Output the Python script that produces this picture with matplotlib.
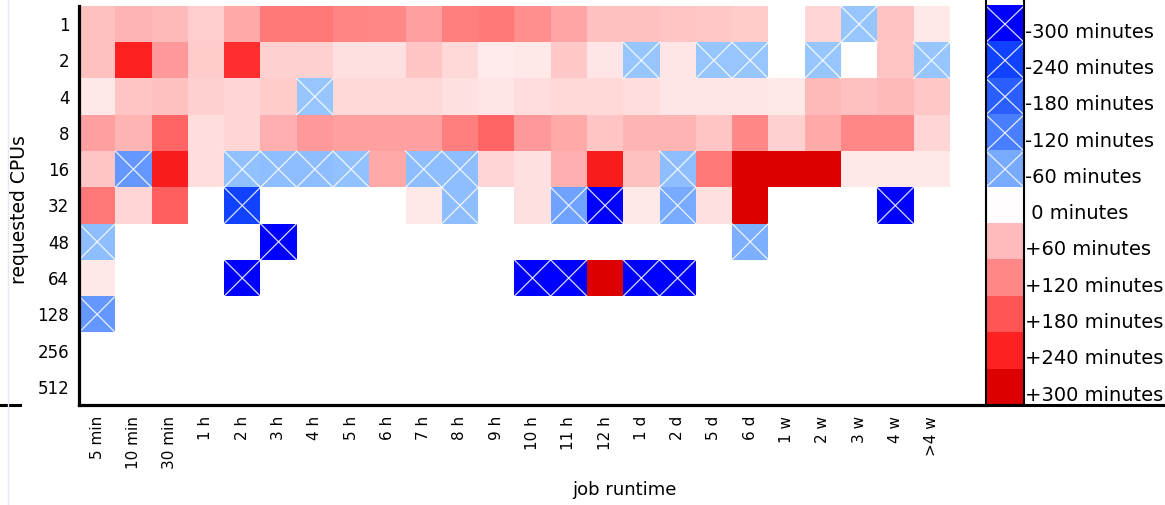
import numpy as np
import matplotlib
matplotlib.use("Agg")
import matplotlib.pyplot as plt
from matplotlib.colors import LinearSegmentedColormap, Normalize
from matplotlib.lines import Line2D

n = np.nan

# axis categories
cpus = ["1", "2", "4", "8", "16", "32", "48", "64", "128", "256", "512"]
runtimes = ["5 min", "10 min", "30 min", "1 h", "2 h", "3 h", "4 h", "5 h", "6 h",
            "7 h", "8 h", "9 h", "10 h", "11 h", "12 h", "1 d", "2 d", "5 d", "6 d",
            "1 w", "2 w", "3 w", "4 w", ">4 w"]

# difference in minutes per cell (nan = no jobs)
cpu1 = [54, 66, 63, 44, 82, 136, 140, 124, 120, 92, 129, 136, 112, 86, 56, 54, 51, 48, 46, n, 37, -35, 53, 20]
cpu2 = [56, 240, 99, 45, 224, 41, 41, 27, 27, 51, 33, 18, 20, 48, 23, -35, 23, -35, -35, n, -35, n, 51, -35]
cpu4 = [21, 51, 56, 40, 37, 45, -35, 33, 33, 35, 27, 23, 30, 33, 33, 30, 23, 23, 23, 20, 63, 54, 63, 48]
cpu8 = [92, 66, 160, 30, 37, 73, 99, 92, 92, 93, 129, 160, 100, 80, 51, 66, 66, 51, 120, 41, 80, 120, 120, 37]
cpu16 = [51, -85, 250, 30, -38, -42, -42, -38, 80, -40, -40, 37, 27, 73, 250, 56, -42, 140, 300, 300, 300, 20, 20, 20]
cpu32 = [140, 37, 167, n, -240, n, n, n, n, 20, -40, n, 27, -70, -300, 20, -60, 27, 300, n, n, n, -300, n]
cpu48 = [-42, n, n, n, n, -300, n, n, n, n, n, n, n, n, n, n, n, n, -55, n, n, n, n, n]
cpu64 = [20, n, n, n, -300, n, n, n, n, n, n, n, -300, -300, 300, -300, -300, n, n, n, n, n, n, n]
cpu128 = [-85] + [n] * 23
cpu256 = [n] * 24
cpu512 = [n] * 24

# legend levels
levels = [-300, -240, -180, -120, -60, 0, 60, 120, 180, 240, 300]
level_labels = ["-300 minutes", "-240 minutes", "-180 minutes", "-120 minutes", "-60 minutes",
                " 0 minutes", "+60 minutes", "+120 minutes", "+180 minutes", "+240 minutes",
                "+300 minutes"]

data = np.array([cpu1, cpu2, cpu4, cpu8, cpu16, cpu32, cpu48, cpu64, cpu128, cpu256, cpu512], dtype=float)

cmap = LinearSegmentedColormap.from_list("diff", [
    (0.0, "#0000ff"), (0.1, "#1144ff"), (0.2, "#2a5eff"), (0.3, "#4a80ff"),
    (0.4, "#78aaff"), (0.45, "#9ccbff"), (0.5, "#ffffff"), (0.6, "#ffbbbb"),
    (0.7, "#ff8888"), (0.8, "#ff5555"), (0.9, "#ff2222"), (1.0, "#dd0000")])
cmap.set_bad("white")
norm = Normalize(-300, 300)

W, H = 1165, 505
fig = plt.figure(figsize=(W / 100, H / 100), dpi=100)

# main heatmap
ax = fig.add_axes([79 / W, 100 / H, 907 / W, 399 / H])
ax.imshow(np.ma.masked_invalid(data), cmap=cmap, norm=norm, aspect="auto",
          interpolation="nearest")
ax.set_xlim(-0.5, len(runtimes) + 0.5)
ax.set_ylim(len(cpus) - 0.5, -0.5)

# white X on negative cells
for i in range(data.shape[0]):
    for j in range(data.shape[1]):
        if data[i, j] < 0:
            ax.plot([j - 0.5, j + 0.5], [i - 0.5, i + 0.5], color="white", lw=0.9, alpha=0.85)
            ax.plot([j - 0.5, j + 0.5], [i + 0.5, i - 0.5], color="white", lw=0.9, alpha=0.85)

ax.set_xticks(range(len(runtimes)))
ax.set_xticklabels(runtimes, rotation=90, fontsize=11, va="top")
ax.set_yticks(range(len(cpus)))
ax.set_yticklabels(cpus, fontsize=12)
ax.tick_params(axis="x", length=0, pad=8)
ax.tick_params(axis="y", length=0, pad=7)
ax.spines["top"].set_visible(False)
ax.spines["right"].set_visible(False)
ax.spines["left"].set_linewidth(2.3)
ax.spines["bottom"].set_linewidth(2.3)

# legend column
ax2 = fig.add_axes([986 / W, 100 / H, 38 / W, 405 / H])
lev = np.array(levels, dtype=float).reshape(-1, 1)
ax2.imshow(lev, cmap=cmap, norm=norm, aspect="auto", interpolation="nearest")
for i, v in enumerate(levels):
    if v < 0:
        ax2.plot([-0.5, 0.5], [i - 0.5, i + 0.5], color="white", lw=0.9, alpha=0.85)
        ax2.plot([-0.5, 0.5], [i + 0.5, i - 0.5], color="white", lw=0.9, alpha=0.85)
ax2.set_xlim(-0.5, 0.5)
ax2.set_ylim(len(levels) - 0.5, -0.5 - 6 / 36.3)
ax2.set_xticks([])
ax2.yaxis.tick_right()
ax2.set_yticks(np.arange(len(levels)) + 0.17)
ax2.set_yticklabels(level_labels, fontsize=14)
ax2.tick_params(axis="y", length=0, pad=1)
ax2.spines["top"].set_visible(False)
for s in ["left", "right", "bottom"]:
    ax2.spines[s].set_linewidth(1.5)

# axis titles
fig.text(624 / W, 15 / H, "job runtime", ha="center", va="center", fontsize=13)
fig.text(20 / W, 295 / H, "requested CPUs", ha="center", va="center", rotation=90, fontsize=13.5)

# stray page lines
fig.add_artist(Line2D([0, 20 / W], [100 / H, 100 / H], color="black", lw=2.2))
fig.add_artist(Line2D([986 / W, 1], [100 / H, 100 / H], color="black", lw=2.2))
fig.add_artist(Line2D([8 / W, 8 / W], [0, 1], color="#e4eaf0", lw=1))

fig.savefig("out.png", dpi=100)
